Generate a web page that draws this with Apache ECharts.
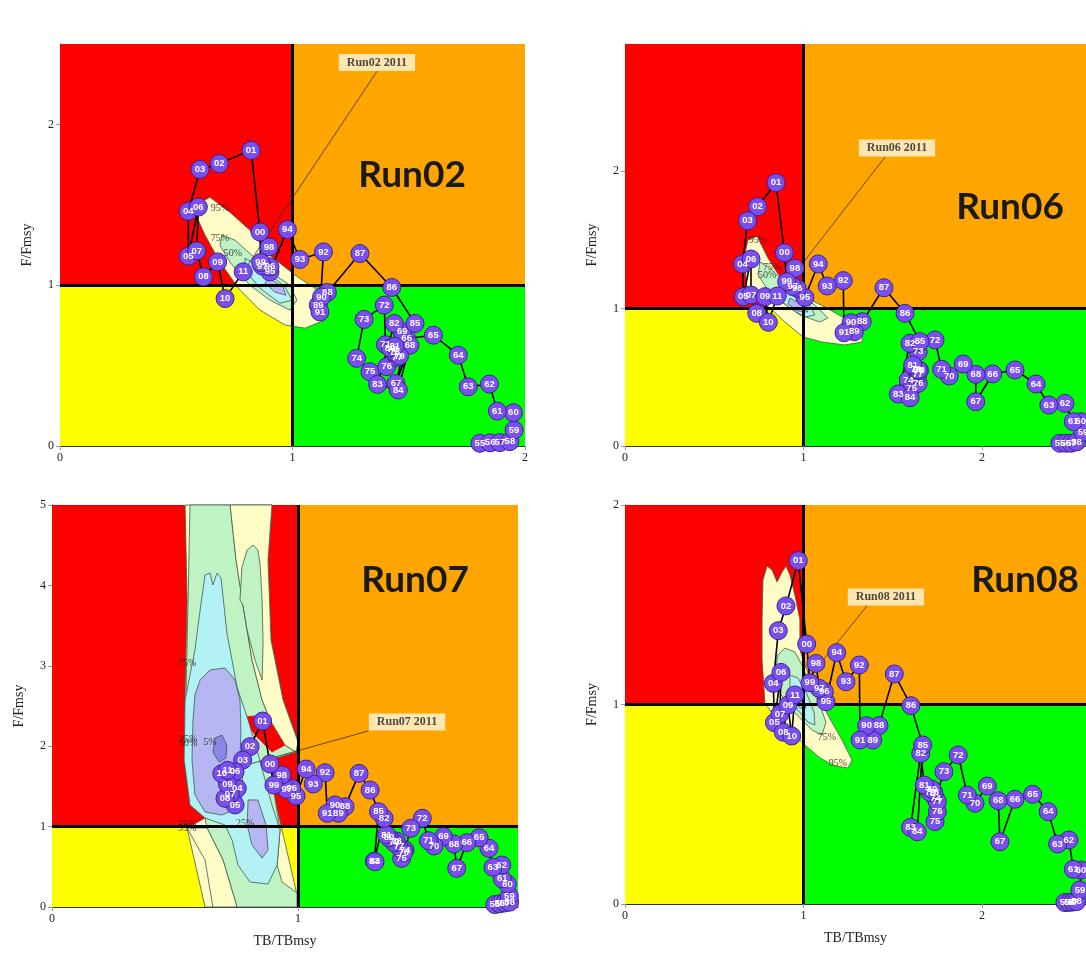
<!DOCTYPE html>
<html>
<head>
<meta charset="utf-8">
<script src="https://cdn.jsdelivr.net/npm/echarts@6/dist/echarts.min.js"></script>
<style>
  html, body { margin: 0; padding: 0; background: #fff; }
  #main { width: 1086px; height: 954px; }
</style>
</head>
<body>
<div id="main"></div>
<script>
// ── Годы траектории (1955–2011) ──────────────────────────────────────────────
var years = ['55','56','57','58','59','60','61','62','63','64','65','66','67','68','69',
  '70','71','72','73','74','75','76','77','78','79','80','81','82','83','84','85','86',
  '87','88','89','90','91','92','93','94','95','96','97','98','99','00','01','02','03',
  '04','05','06','07','08','09','10','11'];

// ── Run02 ────────────────────────────────────────────────────────────────────
var run02X = [1.806,1.85,1.892,1.935,1.953,1.950,1.881,1.847,1.756,1.713,
  1.606,1.491,1.445,1.505,1.472,1.43,1.40,1.395,1.308,1.276,
  1.333,1.405,1.45,1.44,1.46,1.42,1.44,1.438,1.366,1.455,
  1.527,1.427,1.29,1.150,1.111,1.125,1.118,1.133,1.032,0.978,
  0.903,0.903,0.87,0.899,0.863,
  0.860,0.822,0.685,0.602,0.552,0.552,0.595,0.588,0.617,0.678,0.710,0.788];
var run02Y = [0.017,0.02,0.021,0.027,0.099,0.207,0.217,0.385,0.368,0.565,
  0.689,0.669,0.389,0.627,0.71,0.60,0.63,0.876,0.787,0.545,
  0.462,0.493,0.55,0.58,0.56,0.61,0.62,0.762,0.383,0.348,
  0.762,0.986,1.197,0.955,0.876,0.927,0.834,1.207,1.16,1.346,
  1.083,1.114,1.12,1.238,1.141,
  1.331,1.839,1.756,1.72,1.46,1.18,1.486,1.213,1.052,1.145,0.917,1.083];

// ── Run06 ────────────────────────────────────────────────────────────────────
var run06X = [2.437,2.47,2.50,2.53,2.566,2.553,2.512,2.465,2.375,2.303,
  2.185,2.06,1.965,1.966,1.895,1.817,1.774,1.737,1.643,1.587,
  1.606,1.643,1.64,1.65,1.63,1.643,1.612,1.597,1.531,1.597,
  1.653,1.569,1.451,1.329,1.285,1.266,1.227,1.223,1.133,1.083,
  1.008,0.965,0.94,0.952,0.906,
  0.893,0.846,0.743,0.687,0.659,0.663,0.706,0.706,0.738,0.784,0.803,0.853];
var run06Y = [0.02,0.02,0.02,0.03,0.10,0.177,0.177,0.31,0.298,0.451,
  0.553,0.524,0.322,0.521,0.596,0.509,0.558,0.771,0.686,0.48,
  0.42,0.456,0.52,0.55,0.56,0.553,0.589,0.747,0.378,0.351,
  0.759,0.965,1.151,0.904,0.831,0.897,0.824,1.203,1.164,1.324,
  1.081,1.147,1.16,1.292,1.195,
  1.406,1.915,1.741,1.639,1.324,1.086,1.36,1.098,0.965,1.086,0.9,1.091];

// ── Run07 ────────────────────────────────────────────────────────────────────
var run07X = [1.80,1.82,1.84,1.86,1.859,1.851,1.83,1.828,1.792,1.776,
  1.736,1.686,1.645,1.634,1.591,1.553,1.53,1.505,1.458,1.435,
  1.421,1.43,1.41,1.40,1.39,1.37,1.36,1.35,1.31,1.313,
  1.327,1.293,1.248,1.191,1.164,1.150,1.119,1.11,1.062,1.033,
  0.992,0.974,0.954,0.934,0.902,
  0.886,0.856,0.805,0.775,0.753,0.744,0.744,0.724,0.703,0.713,0.69,0.713];
var run07Y = [0.03,0.04,0.05,0.06,0.137,0.286,0.35,0.522,0.494,0.73,
  0.862,0.80,0.481,0.784,0.875,0.759,0.825,1.103,0.979,0.709,
  0.605,0.68,0.75,0.82,0.80,0.86,0.896,1.103,0.57,0.563,
  1.186,1.455,1.662,1.248,1.165,1.269,1.165,1.67,1.53,1.716,
  1.38,1.476,1.464,1.642,1.517,
  1.779,2.313,1.994,1.828,1.476,1.269,1.683,1.406,1.352,1.53,1.66,1.70];

// ── Run08 ────────────────────────────────────────────────────────────────────
var run08X = [2.465,2.49,2.51,2.53,2.549,2.555,2.512,2.487,2.424,2.371,
  2.284,2.185,2.101,2.091,2.03,1.961,1.918,1.867,1.787,1.74,
  1.737,1.75,1.75,1.73,1.71,1.72,1.677,1.657,1.6,1.638,
  1.668,1.602,1.509,1.423,1.388,1.354,1.317,1.313,1.238,1.186,
  1.126,1.117,1.088,1.07,1.036,
  1.018,0.971,0.902,0.859,0.831,0.837,0.874,0.868,0.887,0.913,0.934,0.952];
var run08Y = [0.007,0.008,0.01,0.012,0.07,0.17,0.174,0.321,0.301,0.463,
  0.55,0.525,0.312,0.518,0.591,0.505,0.546,0.747,0.663,0.53,
  0.413,0.463,0.513,0.56,0.56,0.575,0.596,0.755,0.384,0.362,
  0.797,0.994,1.153,0.894,0.822,0.894,0.822,1.198,1.114,1.26,
  1.014,1.064,1.081,1.206,1.109,
  1.303,1.721,1.494,1.37,1.106,0.909,1.161,0.952,0.861,0.997,0.842,1.048];

// ── Контуры плотности (вершины в единицах осей) ─────────────────────────────
var run02C95 = [[0.585,1.497],[0.645,1.547],[0.731,1.453],[0.817,1.342],[0.903,1.186],[1.011,1.062],
  [1.097,0.981],[1.144,0.907],[1.140,0.783],[1.054,0.733],[0.968,0.752],[0.860,0.845],
  [0.774,0.969],[0.688,1.143],[0.624,1.311],[0.585,1.435]];
var run02C75 = [[0.697,1.311],[0.753,1.280],[0.839,1.168],[0.925,1.062],[0.989,1.0],[1.019,0.907],
  [0.989,0.845],[0.903,0.907],[0.817,1.0],[0.731,1.143],[0.688,1.248]];
var run02C50 = [[0.796,1.168],[0.882,1.093],[0.968,0.988],[0.998,0.907],[0.946,0.888],[0.86,0.981],[0.796,1.093]];
var run02C25 = [[0.895,1.05],[0.959,0.988],[0.972,0.938],[0.925,0.957],[0.882,1.012]];

var run06C95 = [[0.689,1.498],[0.739,1.527],[0.801,1.367],[0.857,1.251],[0.924,1.156],[1.008,1.084],
  [1.120,1.011],[1.249,0.916],[1.333,0.829],[1.328,0.756],[1.232,0.735],[1.104,0.756],
  [0.997,0.793],[0.896,0.902],[0.812,1.004],[0.739,1.062],[0.683,1.156],[0.667,1.367]];
var run06C75 = [[0.756,1.338],[0.812,1.295],[0.896,1.185],[0.980,1.098],[1.064,1.025],[1.137,0.931],
  [1.092,0.902],[0.980,0.953],[0.885,1.04],[0.801,1.135],[0.745,1.244]];
var run06C50 = [[0.868,1.149],[0.952,1.091],[1.036,1.018],[1.064,0.953],[1.008,0.938],[0.924,1.004],[0.857,1.076]];
var run06C25 = [[0.924,1.076],[0.997,1.025],[1.025,0.975],[0.969,0.982],[0.913,1.033]];

var run07C95 = [[0.541,5.0],[0.894,5.0],[0.878,4.316],[0.890,3.321],[0.939,2.575],[1.0,2.052],
  [0.992,1.928],[0.886,1.828],[0.907,1.331],[0.935,0.958],[0.996,0.149],[0.996,0],[0.622,0],
  [0.549,0.983],[0.622,1.107],[0.561,1.269],[0.537,1.828],[0.541,2.699],[0.549,3.818]];
var run07C75 = [[0.561,5.0],[0.724,5.0],[0.748,4.316],[0.780,3.694],[0.813,3.072],[0.854,2.575],
  [0.886,2.326],[0.947,2.015],[0.992,1.928],[0.886,1.828],[0.907,1.331],[0.927,0.958],
  [0.915,0.522],[0.935,0.311],[0.996,0.174],[0.996,0],[0.752,0],[0.695,0.585],[0.630,0.983],
  [0.622,1.107],[0.561,1.269],[0.545,1.828],[0.545,2.699],[0.553,3.818]];
var run07Gap = [[0.776,2.363],[0.878,2.388],[0.947,2.015],[0.894,1.928],[0.825,2.139]];
var run07CTop = [[0.724,5.0],[0.894,5.0],[0.878,4.316],[0.890,3.321],[0.939,2.575],[1.0,2.052],
  [0.992,1.928],[0.947,2.015],[0.886,2.326],[0.854,2.575],[0.813,3.072],[0.776,3.756],[0.748,4.316]];
var run07Tongue = [[0.764,3.818],[0.772,4.229],[0.793,4.440],[0.817,4.502],[0.837,4.440],[0.846,4.254],
  [0.854,3.818],[0.858,3.284],[0.854,2.823],[0.825,3.072],[0.793,3.445],[0.776,3.756]];
var run07CLow = [[0.549,0.983],[0.630,0.983],[0.695,0.585],[0.752,0],[0.654,0],[0.622,0.585]];
var run07C50 = [[0.622,4.129],[0.642,4.154],[0.654,4.005],[0.671,4.154],[0.687,4.092],[0.711,3.408],
  [0.752,2.736],[0.797,2.326],[0.833,1.953],[0.866,1.580],[0.894,1.269],[0.927,0.958],
  [0.915,0.522],[0.878,0.286],[0.805,0.311],[0.756,0.522],[0.732,0.833],[0.703,1.020],
  [0.622,1.107],[0.561,1.269],[0.537,1.828],[0.541,2.575],[0.581,3.197],[0.602,3.694]];
var run07C25 = [[0.602,2.823],[0.642,2.948],[0.703,2.973],[0.744,2.823],[0.764,2.575],[0.768,2.201],
  [0.764,1.828],[0.780,1.455],[0.756,1.231],[0.691,1.144],[0.622,1.182],[0.581,1.393],
  [0.569,1.828],[0.573,2.326],[0.581,2.637]];
var run07C25b = [[0.797,1.331],[0.837,1.331],[0.870,1.020],[0.878,0.709],[0.854,0.609],[0.813,0.771],[0.793,1.020]];
var run07C5 = [[0.663,2.102],[0.691,2.139],[0.711,2.015],[0.707,1.853],[0.679,1.803],[0.654,1.928]];

var run08C95 = [[0.773,1.624],[0.796,1.694],[0.824,1.674],[0.852,1.614],[0.880,1.664],[0.902,1.694],
  [0.924,1.649],[0.952,1.549],[0.980,1.424],[0.980,1.273],[1.014,1.183],[1.064,1.073],
  [1.137,0.947],[1.216,0.822],[1.272,0.722],[1.249,0.682],[1.176,0.692],[1.092,0.732],
  [1.008,0.797],[0.924,0.872],[0.840,0.937],[0.784,1.008],[0.768,1.223],[0.768,1.424]];
var run08C75 = [[0.857,1.248],[0.896,1.283],[0.952,1.263],[0.992,1.198],[1.036,1.098],[1.092,0.997],
  [1.126,0.912],[1.104,0.847],[1.048,0.872],[0.980,0.932],[0.913,0.997],[0.857,1.073],[0.840,1.173]];
var run08C50 = [[0.924,1.148],[0.969,1.133],[1.014,1.063],[1.059,0.962],[1.064,0.897],[1.025,0.912],[0.969,0.972],[0.924,1.048]];
var run08C25 = [[0.958,1.073],[0.997,1.033],[1.014,0.982],[0.980,0.982],[0.952,1.023]];

// ── Подписи контуров ────────────────────────────────────────────────────────
var run02Tags = [[0.688,1.478,'95%'],[0.688,1.292,'75%'],[0.744,1.199,'50%']];
var run06Tags = [[0.745,1.498,'95%'],[0.824,1.302,'75%'],[0.796,1.244,'50%']];
var run07Tags = [[0.549,3.035,'75%'],[0.553,2.09,'25%'],[0.553,2.03,'50%'],[0.642,2.05,'5%'],
  [0.549,1.03,'75%'],[0.549,0.98,'95%'],[0.785,1.045,'25%']];
var run08Tags = [[1.193,0.707,'95%'],[1.132,0.837,'75%']];

// ── Сетки панелей ───────────────────────────────────────────────────────────
var panels = [
  { left: 60,  top: 44,  width: 465, height: 402, xMax: 2,     yMax: 2.5,   xs: run02X, ys: run02Y,
    name: 'Run02', nameX: 412, nameY: 175, box: [1.363, 2.385], anchor: [1.363, 2.329], xName: '' },
  { left: 625, top: 44,  width: 461, height: 402, xMax: 2.583, yMax: 2.924, xs: run06X, ys: run06Y,
    name: 'Run06', nameX: 1010, nameY: 207, box: [1.524, 2.167], anchor: [1.457, 2.102], xName: '' },
  { left: 52,  top: 505, width: 466, height: 402, xMax: 1.894, yMax: 5,     xs: run07X, ys: run07Y,
    name: 'Run07', nameX: 415, nameY: 580, box: [1.443, 2.301], anchor: [1.285, 2.189], xName: 'TB/TBmsy' },
  { left: 625, top: 505, width: 461, height: 399, xMax: 2.583, yMax: 2,     xs: run08X, ys: run08Y,
    name: 'Run08', nameX: 1025, nameY: 580, box: [1.462, 1.539], anchor: [1.356, 1.494], xName: 'TB/TBmsy' }
];

var contours = [
  [[run02C95,'#fffcc6'],[run02C75,'#bff3c4'],[run02C50,'#b2f2f4'],[run02C25,'#b6b6f2']],
  [[run06C95,'#fffcc6'],[run06C75,'#bff3c4'],[run06C50,'#b2f2f4'],[run06C25,'#b6b6f2']],
  [[run07C95,'#fffcc6'],[run07C75,'#bff3c4'],[run07Gap,'#ff0000'],[run07CTop,'#fffcc6'],
   [run07Tongue,'#bff3c4'],[run07CLow,'#fffcc6'],[run07C50,'#b2f2f4'],[run07C25,'#b6b6f2'],
   [run07C25b,'#b6b6f2'],[run07C5,'#8a86e6']],
  [[run08C95,'#fffcc6'],[run08C75,'#bff3c4'],[run08C50,'#b2f2f4'],[run08C25,'#b6b6f2']]
];
var tags = [run02Tags, run06Tags, run07Tags, run08Tags];

var SERIF = "'Liberation Serif', 'DejaVu Serif', serif";

var grids = [], xAxes = [], yAxes = [], series = [], graphics = [];

function polySeries(gi, pts, fill) {
  return {
    type: 'custom', xAxisIndex: gi, yAxisIndex: gi, z: 2, silent: true, animation: false,
    data: [[pts[0][0], pts[0][1]]],
    renderItem: function (params, api) {
      return {
        type: 'polygon',
        shape: { points: pts.map(function (p) { return api.coord(p); }) },
        style: { fill: fill, stroke: fill === '#ff0000' ? '#ff0000' : '#3e5a52', lineWidth: 0.8 }
      };
    }
  };
}

panels.forEach(function (p, gi) {
  grids.push({ left: p.left, top: p.top, width: p.width, height: p.height, show: false });

  var intX = Math.abs(p.xMax - Math.round(p.xMax)) < 1e-6;
  var intY = Math.abs(p.yMax - Math.round(p.yMax)) < 1e-6;

  xAxes.push({
    gridIndex: gi, type: 'value', min: 0, max: p.xMax, interval: 1,
    name: p.xName, nameLocation: 'middle', nameGap: 27,
    nameTextStyle: { fontFamily: SERIF, fontSize: 14, color: '#222' },
    splitLine: { show: false },
    axisLine: { show: true, onZero: false, lineStyle: { color: '#333', width: 1 } },
    axisTick: { show: true, length: 4, lineStyle: { color: '#999' } },
    axisLabel: { fontFamily: SERIF, fontSize: 12, color: '#222', margin: 6, showMaxLabel: intX }
  });
  yAxes.push({
    gridIndex: gi, type: 'value', min: 0, max: p.yMax, interval: 1,
    name: 'F/Fmsy', nameLocation: 'middle', nameGap: 26, nameRotate: 90,
    nameTextStyle: { fontFamily: SERIF, fontSize: 14, color: '#222' },
    splitLine: { show: false },
    axisLine: { show: true, onZero: false, lineStyle: { color: '#333', width: 1 } },
    axisTick: { show: true, length: 4, lineStyle: { color: '#999' } },
    axisLabel: { fontFamily: SERIF, fontSize: 12, color: '#222', margin: 6, showMaxLabel: intY }
  });

  // Квадранты Кобе
  series.push({
    type: 'line', xAxisIndex: gi, yAxisIndex: gi, z: 1, silent: true, animation: false,
    data: [[0, 0]], symbol: 'none', lineStyle: { opacity: 0 },
    markArea: {
      silent: true,
      data: [
        [{ coord: [0, 1], itemStyle: { color: '#ff0000' } }, { coord: [1, p.yMax] }],
        [{ coord: [1, 1], itemStyle: { color: '#ffa500' } }, { coord: [p.xMax, p.yMax] }],
        [{ coord: [0, 0], itemStyle: { color: '#ffff00' } }, { coord: [1, 1] }],
        [{ coord: [1, 0], itemStyle: { color: '#00ff00' } }, { coord: [p.xMax, 1] }]
      ]
    }
  });

  contours[gi].forEach(function (c) { series.push(polySeries(gi, c[0], c[1])); });

  // Подписи контуров
  series.push({
    type: 'scatter', xAxisIndex: gi, yAxisIndex: gi, z: 3, silent: true, animation: false,
    symbolSize: 0, data: tags[gi],
    label: { show: true, position: 'inside', formatter: function (d) { return d.data[2]; },
      fontFamily: SERIF, fontSize: 10, color: '#1a1a1a' }
  });

  // Опорные линии F/Fmsy = 1 и TB/TBmsy = 1
  series.push({
    type: 'line', xAxisIndex: gi, yAxisIndex: gi, z: 4, silent: true, animation: false,
    data: [[0, 0]], symbol: 'none', lineStyle: { opacity: 0 },
    markLine: {
      silent: true, symbol: 'none', animation: false, label: { show: false },
      lineStyle: { color: '#000', width: 3, type: 'solid' },
      data: [{ xAxis: 1 }, { yAxis: 1 }]
    }
  });

  // Выноска "RunXX 2011"
  series.push({
    type: 'line', xAxisIndex: gi, yAxisIndex: gi, z: 4, silent: true, animation: false,
    data: [p.anchor, [p.xs[p.xs.length - 1], p.ys[p.ys.length - 1]]],
    symbol: 'none', lineStyle: { color: '#3a3020', width: 0.8 }
  });

  // Траектория
  series.push({
    type: 'line', xAxisIndex: gi, yAxisIndex: gi, z: 5, animation: false,
    data: p.xs.map(function (x, i) { return [x, p.ys[i], years[i]]; }),
    symbol: 'circle', symbolSize: 18, showAllSymbol: true,
    itemStyle: { color: '#7a4ff0', borderColor: '#3a2590', borderWidth: 1 },
    lineStyle: { color: '#000', width: 1.6 },
    label: { show: true, position: 'inside', formatter: function (d) { return d.data[2]; },
      fontFamily: "'Liberation Sans', Arial, sans-serif", fontSize: 9.5, fontWeight: 'bold', color: '#fff' }
  });

  series.push({
    type: 'scatter', xAxisIndex: gi, yAxisIndex: gi, z: 6, silent: true, animation: false,
    symbolSize: 0, data: [[p.box[0], p.box[1], p.name + ' 2011']],
    label: { show: true, position: 'inside', formatter: function (d) { return d.data[2]; },
      fontFamily: SERIF, fontSize: 12, fontWeight: 'bold', color: '#222',
      backgroundColor: '#fdf6df', padding: [3, 8, 2, 8] }
  });

  graphics.push({
    type: 'text', x: p.nameX, y: p.nameY, z: 100,
    style: { text: p.name, font: "bold 37px Lato, 'Open Sans', sans-serif", fill: '#1a1a1a',
      textAlign: 'center', textVerticalAlign: 'middle' }
  });
});

var chart = echarts.init(document.getElementById('main'));
chart.setOption({
  animation: false,
  grid: grids,
  xAxis: xAxes,
  yAxis: yAxes,
  series: series,
  graphic: graphics
});
</script>
</body>
</html>
